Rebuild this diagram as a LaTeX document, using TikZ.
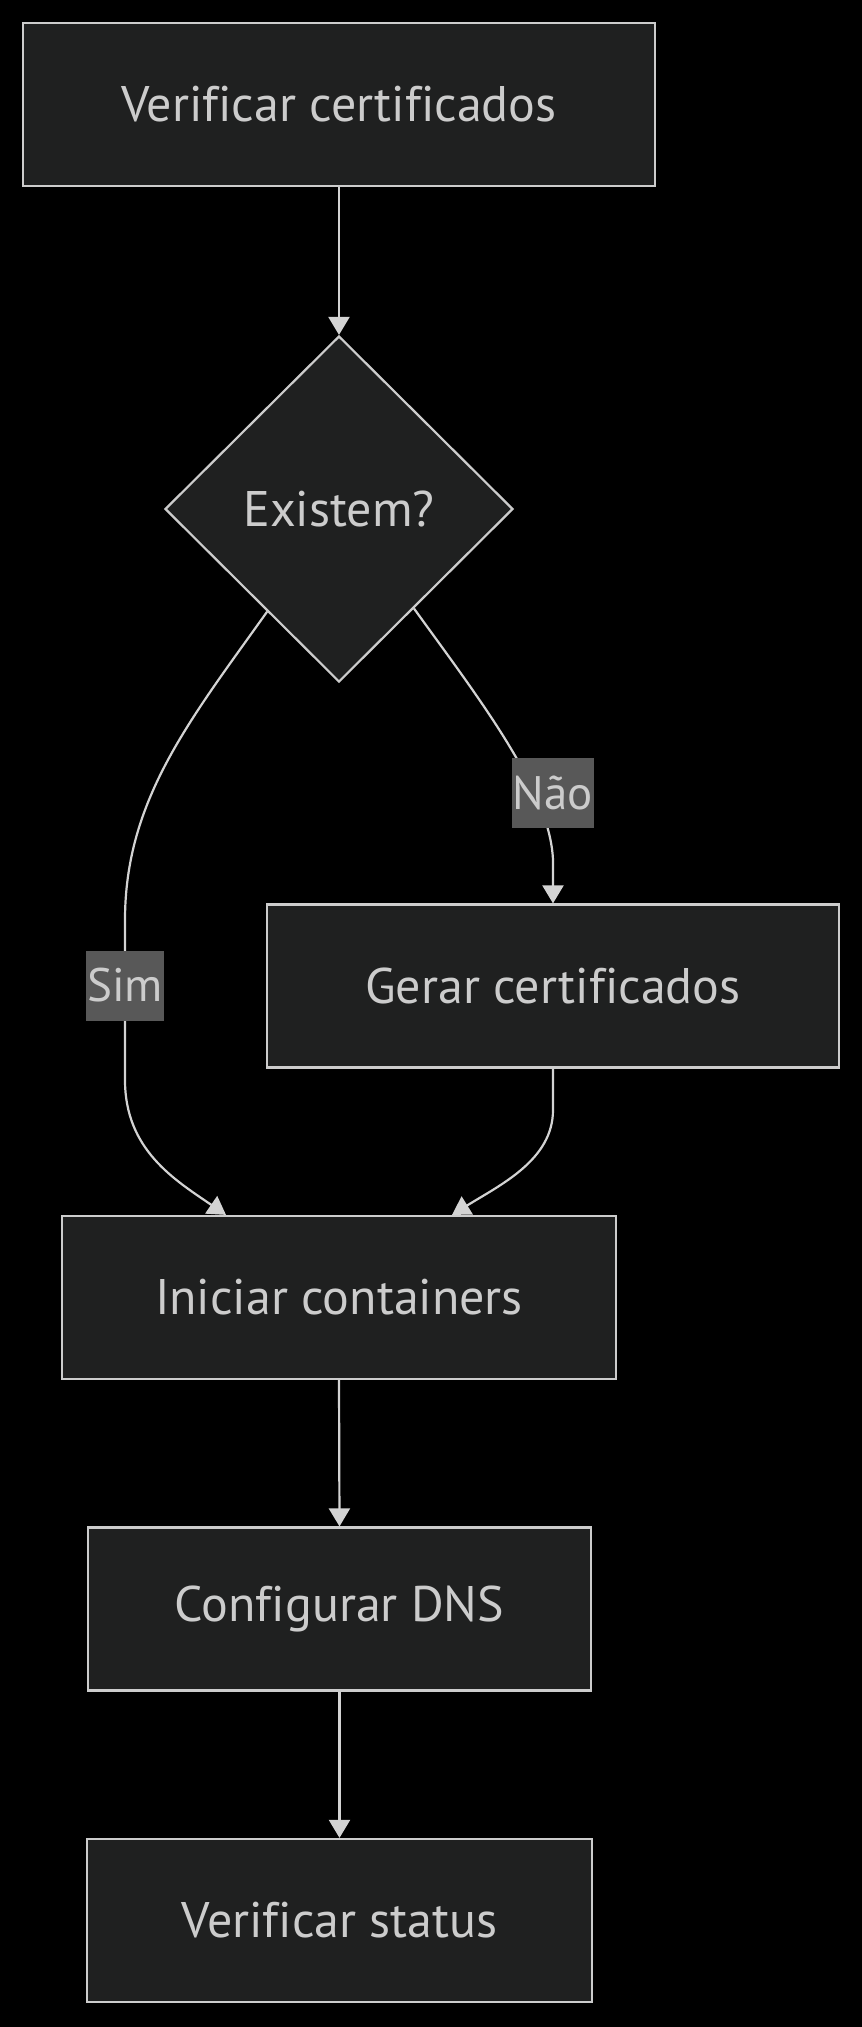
\documentclass[tikz,border=0pt]{standalone}
\usepackage{fontspec}
\setmainfont[Ligatures=CommonOff]{PT Sans}
\usetikzlibrary{shapes.geometric,arrows.meta,calc}
\pgfdeclarelayer{bg}
\pgfdeclarelayer{edges}
\pgfsetlayers{bg,edges,main}
\definecolor{nodefill}{HTML}{1F2020}
\definecolor{nodeline}{HTML}{CCCCCC}
\definecolor{txt}{HTML}{CCCCCC}
\definecolor{edgec}{HTML}{D3D3D3}
\definecolor{lblbg}{HTML}{585858}
\begin{document}
\begin{tikzpicture}[x=1pt,y=-1pt,
  lbltext/.style={text=txt,font=\fontsize{47}{52}\selectfont},
  nodetext/.style={text=txt,font=\fontsize{50}{55}\selectfont},
  proc/.style={nodetext,draw=nodeline,fill=nodefill,line width=2.2pt,minimum height=163pt,inner sep=0pt},
  dec/.style={nodetext,diamond,draw=nodeline,fill=nodefill,line width=2.2pt,minimum width=348pt,minimum height=346pt,inner sep=0pt},
  elabel/.style={lbltext,fill=lblbg,inner xsep=1pt,inner ysep=0pt,minimum height=70pt},
  conn/.style={draw=edgec,line width=2.2pt,-{Triangle[length=18pt,width=21pt]}}
]
\begin{pgfonlayer}{bg}
\fill[black] (0,0) rectangle (862,2027);
\end{pgfonlayer}
\useasboundingbox (0,0) rectangle (862,2027);

\node[proc,minimum width=632pt] (v1) at (339,104.5) {Verificar certificados};
\node[dec] (dia) at (339,509) {Existem?};
\node[proc,minimum width=572pt] (ger) at (553,986) {Gerar certificados};
\node[proc,minimum width=554pt] (ini) at (339,1297.5) {Iniciar containers};
\node[proc,minimum width=503pt] (dns) at (339.5,1609) {Configurar DNS};
\node[proc,minimum width=505pt] (st) at (339.5,1920.5) {Verificar status};

\node[elabel] (nao) at (553,793) {Não};
\node[elabel] (sim) at (125,985.5) {Sim};

\coordinate (iniL) at ($(ini.north)+(-113,0)$);
\coordinate (iniR) at ($(ini.north)+(113,0)$);

\begin{pgfonlayer}{edges}
\draw[conn] (v1.south) -- (dia.north);
\draw[conn] (dia.235) .. controls (190,720) and (125,800) .. (125,920)
  -- (sim.center) -- (125,1080) .. controls (125,1150) and (175,1180) .. (iniL);
\draw[conn] (dia.307) .. controls (480,700) and (550,790) .. (553,860) -- (ger.north);
\draw[conn] (ger.south) -- (553,1110) .. controls (553,1160) and (500,1185) .. (iniR);
\draw[conn] (ini.south) -- (dns.north);
\draw[conn] (dns.south) -- (st.north);
\end{pgfonlayer}
\end{tikzpicture}
\end{document}
